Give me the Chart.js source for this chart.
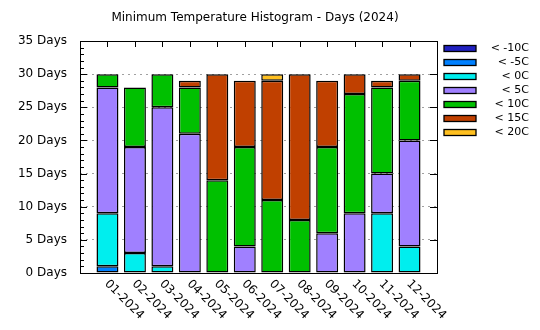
<!DOCTYPE html>
<html>
<head>
<meta charset="utf-8">
<script src="https://cdn.jsdelivr.net/npm/chart.js@4"></script>
<style>
  html, body { margin: 0; padding: 0; background: #fff; }
</style>
</head>
<body>
<canvas id="histChart" width="540" height="330"></canvas>
<script>
const chartTitle = "Minimum Temperature Histogram - Days (2024)";
const months = ["01-2024", "02-2024", "03-2024", "04-2024", "05-2024", "06-2024",
                "07-2024", "08-2024", "09-2024", "10-2024", "11-2024", "12-2024"];
const bandLabels = ["< -10C", "< -5C", "< 0C", "< 5C", "< 10C", "< 15C", "< 20C"];
const bandColors = ["#2020c0", "#0080ff", "#00eeee", "#a080ff", "#00c000", "#c04000", "#ffc020"];

// days per month in each temperature band (bottom to top)
const daysBelowM10 = [0, 0, 0, 0, 0, 0, 0, 0, 0, 0, 0, 0];
const daysBelowM5  = [1, 0, 0, 0, 0, 0, 0, 0, 0, 0, 0, 0];
const daysBelow0   = [8, 3, 1, 0, 0, 0, 0, 0, 0, 0, 9, 4];
const daysBelow5   = [19, 16, 24, 21, 0, 4, 0, 0, 6, 9, 6, 16];
const daysBelow10  = [2, 9, 5, 7, 14, 15, 11, 8, 13, 18, 13, 9];
const daysBelow15  = [0, 0, 0, 1, 16, 10, 18, 22, 10, 3, 1, 1];
const daysBelow20  = [0, 0, 0, 0, 0, 0, 1, 0, 0, 0, 0, 0];
const bandValues = [daysBelowM10, daysBelowM5, daysBelow0, daysBelow5, daysBelow10, daysBelow15, daysBelow20];

const yMax = 35;
const yStep = 5;

// gnuplot leaves one empty slot on each side of the bars
const labels = [""].concat(months, [""]);
const pad = arr => [null].concat(arr.map(v => v === 0 ? null : v), [null]);

const datasets = bandLabels.map((name, i) => ({
    label: name,
    data: pad(bandValues[i]),
    backgroundColor: bandColors[i],
    borderColor: "#000",
    borderWidth: 1.5,
    borderSkipped: false,
    barPercentage: 0.8,
    categoryPercentage: 1.0
}));

const gnuplotLook = {
    id: "gnuplotLook",
    afterDatasetsDraw(chart) {
        const { ctx, chartArea: a, scales: { x, y } } = chart;
        ctx.save();
        ctx.strokeStyle = "#000";
        ctx.lineWidth = 1;
        ctx.strokeRect(Math.round(a.left) + 0.5, Math.round(a.top) + 0.5,
                       Math.round(a.right - a.left), Math.round(a.bottom - a.top));
        // y ticks, minor every day, major every 5
        for (let d = 0; d <= yMax; d++) {
            const py = Math.round(y.getPixelForValue(d)) + 0.5;
            const len = d % yStep === 0 ? 7 : 4;
            ctx.beginPath();
            ctx.moveTo(a.left, py);
            ctx.lineTo(a.left + len, py);
            if (d % yStep === 0) {
                ctx.moveTo(a.right, py);
                ctx.lineTo(a.right - len, py);
            }
            ctx.stroke();
        }
        // x ticks on the top border
        months.forEach((m, i) => {
            const px = Math.round(x.getPixelForValue(i + 1)) + 0.5;
            ctx.beginPath();
            ctx.moveTo(px, a.top);
            ctx.lineTo(px, a.top + 6);
            ctx.stroke();
        });
        ctx.restore();
    },
    afterDraw(chart) {
        const { ctx, chartArea: a, scales: { x } } = chart;
        ctx.save();
        ctx.fillStyle = "#000";
        // title
        ctx.font = "12px 'DejaVu Sans'";
        ctx.textAlign = "center";
        ctx.textBaseline = "middle";
        ctx.fillText(chartTitle, 255, 18);
        // rotated month labels
        ctx.font = "12px 'DejaVu Sans'";
        ctx.textAlign = "left";
        months.forEach((m, i) => {
            const px = x.getPixelForValue(i + 1);
            ctx.save();
            ctx.translate(px - 1, a.bottom + 9);
            ctx.rotate(Math.PI / 4);
            ctx.fillText(m, 0, 0);
            ctx.restore();
        });
        // legend
        ctx.font = "11px 'DejaVu Sans'";
        ctx.textAlign = "right";
        bandLabels.forEach((name, i) => {
            const ty = 48.5 + i * 14;
            ctx.fillStyle = bandColors[i];
            ctx.fillRect(444, ty - 3, 32, 6);
            ctx.strokeStyle = "#000";
            ctx.lineWidth = 1.3;
            ctx.strokeRect(444, ty - 3, 32, 6);
            ctx.fillStyle = "#000";
            ctx.fillText(name, 529, ty);
        });
        ctx.restore();
    }
};

new Chart(document.getElementById("histChart"), {
    type: "bar",
    data: { labels: labels, datasets: datasets },
    options: {
        responsive: false,
        animation: false,
        layout: { padding: { top: 41, right: 103, bottom: 57, left: 0 } },
        plugins: {
            legend: { display: false },
            title: { display: false },
            tooltip: { enabled: false }
        },
        scales: {
            x: {
                stacked: true,
                display: false,
                offset: false
            },
            y: {
                stacked: true,
                min: 0,
                max: yMax,
                afterFit: s => { s.width = 80; },
                border: { display: false, dash: [2, 4] },
                grid: {
                    drawTicks: false,
                    color: c => (c.tick.value === 0 || c.tick.value === yMax) ? "rgba(0,0,0,0)" : "#a0a0a0"
                },
                ticks: {
                    stepSize: yStep,
                    padding: 13,
                    color: "#000",
                    font: { family: "DejaVu Sans", size: 12 },
                    callback: v => v + " Days"
                }
            }
        }
    },
    plugins: [gnuplotLook]
});
</script>
</body>
</html>
